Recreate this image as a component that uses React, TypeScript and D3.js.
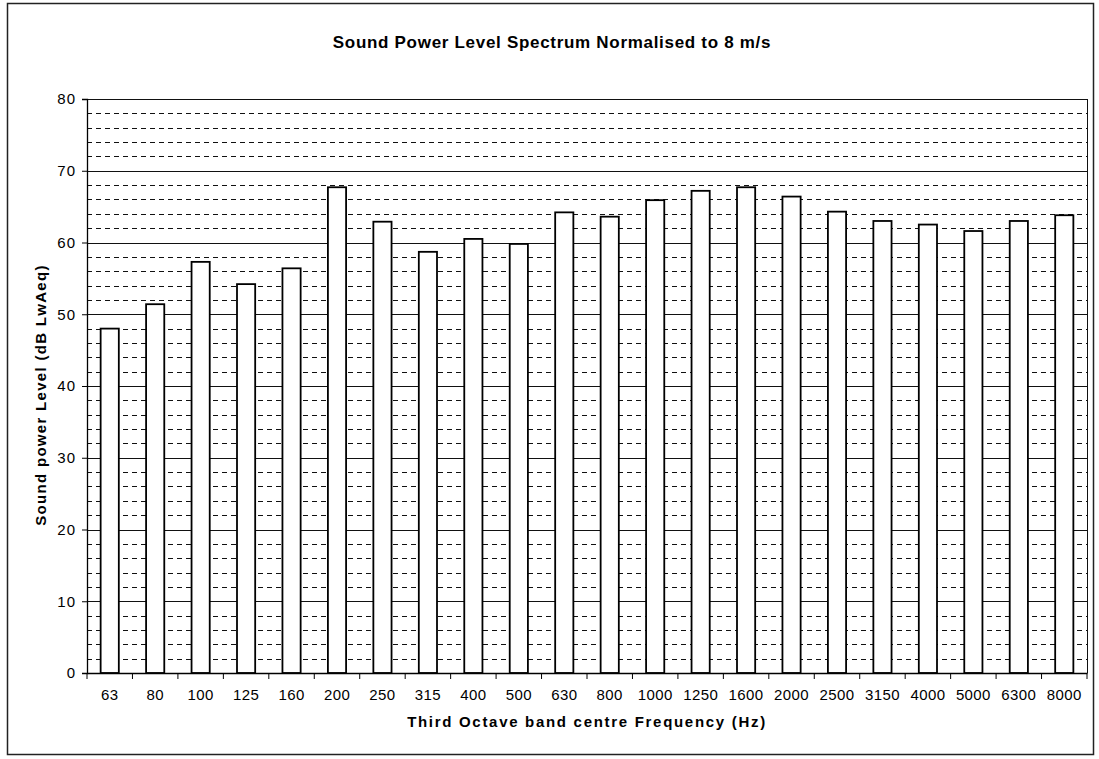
import React, { useEffect, useRef } from 'react';
import * as d3 from 'd3';

const frequencies = ['63', '80', '100', '125', '160', '200', '250', '315', '400', '500', '630', '800',
  '1000', '1250', '1600', '2000', '2500', '3150', '4000', '5000', '6300', '8000'];
const levels = [48.0, 51.4, 57.3, 54.2, 56.4, 67.7, 62.9, 58.7, 60.5, 59.8, 64.2, 63.6,
  65.9, 67.2, 67.7, 66.4, 64.3, 63.0, 62.5, 61.6, 63.0, 63.8];
const majorTicks = [0, 10, 20, 30, 40, 50, 60, 70, 80];
const minorTicks = d3.range(2, 80, 2).filter((d) => d % 10 !== 0);

const title = 'Sound Power Level Spectrum Normalised to 8 m/s';
const xTitle = 'Third Octave band centre Frequency (Hz)';
const yTitle = 'Sound power Level (dB LwAeq)';

function App() {
  const ref = useRef<SVGSVGElement>(null);

  useEffect(() => {
    const svg = d3.select(ref.current);
    svg.selectAll('*').remove();
    const margin = { top: 99, left: 87 };
    const width = 1000;
    const height = 574;
    const font = 'Arial, "Liberation Sans", sans-serif';

    // outer chart frame
    svg.append('rect')
      .attr('x', 7.5).attr('y', 3.5)
      .attr('width', 1086).attr('height', 751)
      .attr('fill', 'white').attr('stroke', '#222').attr('stroke-width', 1.5);

    svg.append('text')
      .attr('x', 552).attr('y', 48)
      .attr('text-anchor', 'middle')
      .attr('font-family', font).attr('font-weight', 'bold').attr('font-size', 17)
      .attr('letter-spacing', 0.7)
      .text(title);

    const g = svg.append('g')
      .attr('transform', `translate(${margin.left},${margin.top})`);

    const x = d3.scaleBand<string>()
      .domain(frequencies)
      .range([0, width])
      .paddingInner(0.6)
      .paddingOuter(0.3);

    const band = d3.scaleBand<string>().domain(frequencies).range([0, width]);

    const y = d3.scaleLinear().domain([0, 80]).range([height, 0]);

    // dashed minor grid
    g.selectAll('.minor')
      .data(minorTicks)
      .enter().append('line')
      .attr('x1', 0).attr('x2', width)
      .attr('y1', (d) => Math.round(y(d)) + 0.5).attr('y2', (d) => Math.round(y(d)) + 0.5)
      .attr('stroke', '#111').attr('stroke-width', 1)
      .attr('stroke-dasharray', '5,4');

    // solid major grid
    g.selectAll('.major')
      .data(majorTicks)
      .enter().append('line')
      .attr('x1', 0).attr('x2', width)
      .attr('y1', (d) => Math.round(y(d)) + 0.5).attr('y2', (d) => Math.round(y(d)) + 0.5)
      .attr('stroke', '#111').attr('stroke-width', 1);

    // right border of plot area
    g.append('line')
      .attr('x1', width + 0.5).attr('x2', width + 0.5)
      .attr('y1', 0).attr('y2', height)
      .attr('stroke', '#111');

    g.selectAll('.bar')
      .data(levels)
      .enter().append('rect')
      .attr('x', (d, i) => x(frequencies[i]) as number)
      .attr('y', (d) => y(d))
      .attr('width', x.bandwidth())
      .attr('height', (d) => height - y(d))
      .attr('fill', 'white')
      .attr('stroke', '#000')
      .attr('stroke-width', 1.8);

    const yAxis = g.append('g')
      .call(d3.axisLeft(y).tickValues(majorTicks).tickSize(5).tickPadding(6));
    yAxis.select('.domain').attr('stroke', '#000').attr('stroke-width', 1.3);
    yAxis.selectAll('text')
      .attr('font-family', font).attr('font-size', 15).attr('fill', '#000')
      .attr('letter-spacing', 1);

    const xAxis = g.append('g')
      .attr('transform', `translate(0,${height})`)
      .call(d3.axisBottom(band).tickSize(0).tickPadding(16));
    xAxis.select('.domain').attr('stroke', '#000').attr('stroke-width', 1.3);
    xAxis.selectAll('text')
      .attr('font-family', font).attr('font-size', 15).attr('fill', '#000')
      .attr('letter-spacing', 0.4);

    // x ticks at category boundaries
    g.selectAll('.xtick')
      .data(d3.range(frequencies.length + 1))
      .enter().append('line')
      .attr('x1', (d) => d * band.step()).attr('x2', (d) => d * band.step())
      .attr('y1', height).attr('y2', height + 6)
      .attr('stroke', '#000');

    svg.append('text')
      .attr('x', margin.left + width / 2).attr('y', 727)
      .attr('text-anchor', 'middle')
      .attr('font-family', font).attr('font-weight', 'bold').attr('font-size', 15)
      .attr('letter-spacing', 1.7)
      .text(xTitle);

    svg.append('text')
      .attr('transform', `translate(46,${margin.top + height / 2 + 9}) rotate(-90)`)
      .attr('text-anchor', 'middle')
      .attr('font-family', font).attr('font-weight', 'bold').attr('font-size', 15)
      .attr('letter-spacing', 1.3)
      .text(yTitle);
  }, []);

  return (
    <svg ref={ref} width="1099" height="759" style={{ position: 'absolute', left: 0, top: 0 }} />
  );
}

export default App;
